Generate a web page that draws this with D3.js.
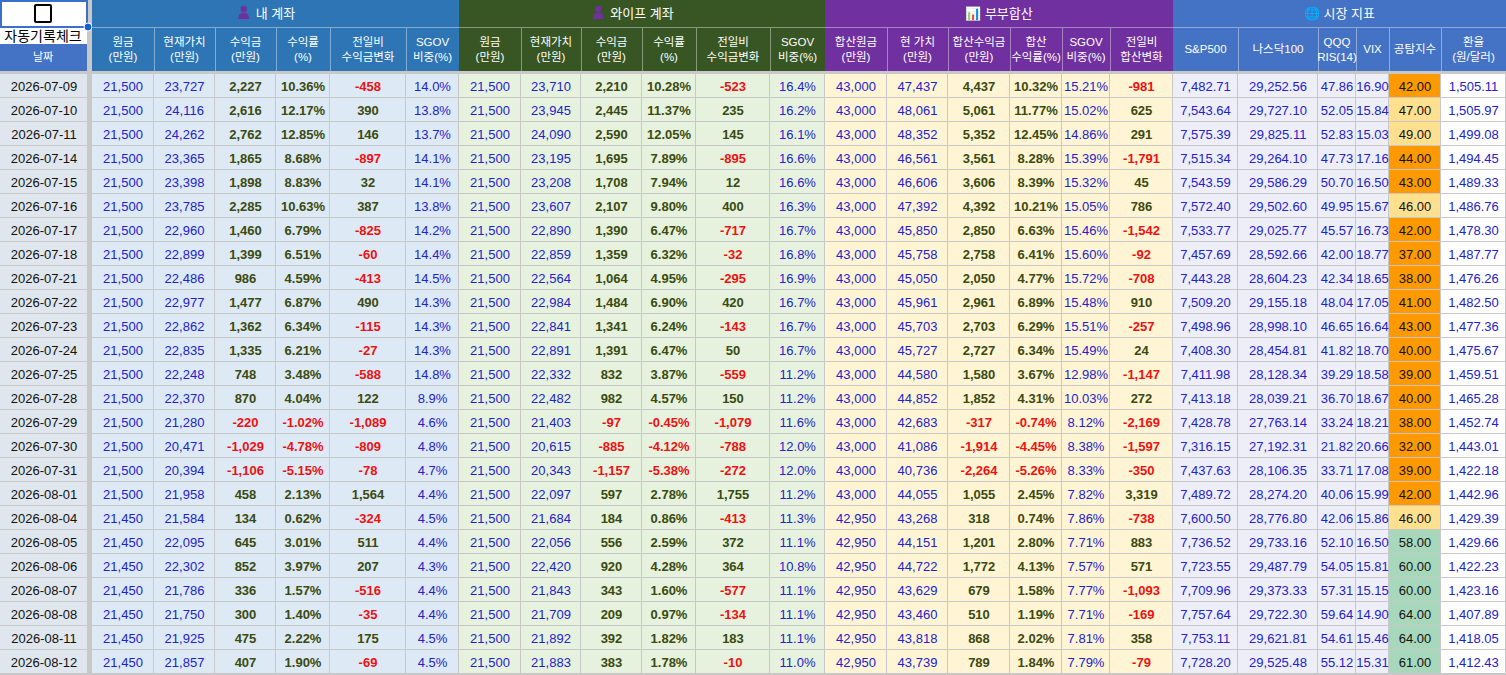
<!DOCTYPE html>
<html><head><meta charset="utf-8">
<script src="https://cdn.jsdelivr.net/npm/d3@7"></script>
<style>body{margin:0;background:#fff}svg{display:block}text{font-family:"Liberation Sans","Noto Sans CJK KR",sans-serif}</style>
</head><body><svg id="c" width="1506" height="675"></svg>
<script>
const dates=["2026-07-09","2026-07-10","2026-07-11","2026-07-14","2026-07-15","2026-07-16","2026-07-17","2026-07-18","2026-07-21","2026-07-22","2026-07-23","2026-07-24","2026-07-25","2026-07-28","2026-07-29","2026-07-30","2026-07-31","2026-08-01","2026-08-04","2026-08-05","2026-08-06","2026-08-07","2026-08-08","2026-08-11","2026-08-12"];
const myPrincipal=[21500,21500,21500,21500,21500,21500,21500,21500,21500,21500,21500,21500,21500,21500,21500,21500,21500,21500,21450,21450,21450,21450,21450,21450,21450];
const myValue=[23727,24116,24262,23365,23398,23785,22960,22899,22486,22977,22862,22835,22248,22370,21280,20471,20394,21958,21584,22095,22302,21786,21750,21925,21857];
const myProfit=[2227,2616,2762,1865,1898,2285,1460,1399,986,1477,1362,1335,748,870,-220,-1029,-1106,458,134,645,852,336,300,475,407];
const myRate=[10.36,12.17,12.85,8.68,8.83,10.63,6.79,6.51,4.59,6.87,6.34,6.21,3.48,4.04,-1.02,-4.78,-5.15,2.13,0.62,3.01,3.97,1.57,1.40,2.22,1.90];
const myChange=[-458,390,146,-897,32,387,-825,-60,-413,490,-115,-27,-588,122,-1089,-809,-78,1564,-324,511,207,-516,-35,175,-69];
const mySgov=[14.0,13.8,13.7,14.1,14.1,13.8,14.2,14.4,14.5,14.3,14.3,14.3,14.8,8.9,4.6,4.8,4.7,4.4,4.5,4.4,4.3,4.4,4.4,4.5,4.5];
const wPrincipal=[21500,21500,21500,21500,21500,21500,21500,21500,21500,21500,21500,21500,21500,21500,21500,21500,21500,21500,21500,21500,21500,21500,21500,21500,21500];
const wValue=[23710,23945,24090,23195,23208,23607,22890,22859,22564,22984,22841,22891,22332,22482,21403,20615,20343,22097,21684,22056,22420,21843,21709,21892,21883];
const wProfit=[2210,2445,2590,1695,1708,2107,1390,1359,1064,1484,1341,1391,832,982,-97,-885,-1157,597,184,556,920,343,209,392,383];
const wRate=[10.28,11.37,12.05,7.89,7.94,9.80,6.47,6.32,4.95,6.90,6.24,6.47,3.87,4.57,-0.45,-4.12,-5.38,2.78,0.86,2.59,4.28,1.60,0.97,1.82,1.78];
const wChange=[-523,235,145,-895,12,400,-717,-32,-295,420,-143,50,-559,150,-1079,-788,-272,1755,-413,372,364,-577,-134,183,-10];
const wSgov=[16.4,16.2,16.1,16.6,16.6,16.3,16.7,16.8,16.9,16.7,16.7,16.7,11.2,11.2,11.6,12.0,12.0,11.2,11.3,11.1,10.8,11.1,11.1,11.1,11.0];
const cPrincipal=[43000,43000,43000,43000,43000,43000,43000,43000,43000,43000,43000,43000,43000,43000,43000,43000,43000,43000,42950,42950,42950,42950,42950,42950,42950];
const cValue=[47437,48061,48352,46561,46606,47392,45850,45758,45050,45961,45703,45727,44580,44852,42683,41086,40736,44055,43268,44151,44722,43629,43460,43818,43739];
const cProfit=[4437,5061,5352,3561,3606,4392,2850,2758,2050,2961,2703,2727,1580,1852,-317,-1914,-2264,1055,318,1201,1772,679,510,868,789];
const cRate=[10.32,11.77,12.45,8.28,8.39,10.21,6.63,6.41,4.77,6.89,6.29,6.34,3.67,4.31,-0.74,-4.45,-5.26,2.45,0.74,2.80,4.13,1.58,1.19,2.02,1.84];
const cSgov=[15.21,15.02,14.86,15.39,15.32,15.05,15.46,15.60,15.72,15.48,15.51,15.49,12.98,10.03,8.12,8.38,8.33,7.82,7.86,7.71,7.57,7.77,7.71,7.81,7.79];
const cChange=[-981,625,291,-1791,45,786,-1542,-92,-708,910,-257,24,-1147,272,-2169,-1597,-350,3319,-738,883,571,-1093,-169,358,-79];
const sp500=[7482.71,7543.64,7575.39,7515.34,7543.59,7572.40,7533.77,7457.69,7443.28,7509.20,7498.96,7408.30,7411.98,7413.18,7428.78,7316.15,7437.63,7489.72,7600.50,7736.52,7723.55,7709.96,7757.64,7753.11,7728.20];
const nasdaq=[29252.56,29727.10,29825.11,29264.10,29586.29,29502.60,29025.77,28592.66,28604.23,29155.18,28998.10,28454.81,28128.34,28039.21,27763.14,27192.31,28106.35,28274.20,28776.80,29733.16,29487.79,29373.33,29722.30,29621.81,29525.48];
const qqqRsi=[47.86,52.05,52.83,47.73,50.70,49.95,45.57,42.00,42.34,48.04,46.65,41.82,39.29,36.70,33.24,21.82,33.71,40.06,42.06,52.10,54.05,57.31,59.64,54.61,55.12];
const vix=[16.90,15.84,15.03,17.16,16.50,15.67,16.73,18.77,18.65,17.05,16.64,18.70,18.58,18.67,18.21,20.66,17.08,15.99,15.86,16.50,15.81,15.15,14.90,15.46,15.31];
const fearGreed=[42,47,49,44,43,46,42,37,38,41,43,40,39,40,38,32,39,42,46,58,60,60,64,64,61];
const fx=[1505.11,1505.97,1499.08,1494.45,1489.33,1486.76,1478.30,1487.77,1476.26,1482.50,1477.36,1475.67,1459.51,1465.28,1452.74,1443.01,1422.18,1442.96,1429.39,1429.66,1422.23,1423.16,1407.89,1418.05,1412.43];

const groups=[
 {title:"내 계좌",icon:"#7030a0",bg:"#2e75b6",cell:"#dde9f5",cols:[["원금","(만원)"],["현재가치","(만원)"],["수익금","(만원)"],["수익률","(%)"],["전일비","수익금변화"],["SGOV","비중(%)"]],data:[myPrincipal,myValue,myProfit,myRate,myChange,mySgov],kind:["amt","amt","profit","rate","chg","sgov1"]},
 {title:"와이프 계좌",icon:"#7030a0",bg:"#375623",cell:"#e6f2dd",cols:[["원금","(만원)"],["현재가치","(만원)"],["수익금","(만원)"],["수익률","(%)"],["전일비","수익금변화"],["SGOV","비중(%)"]],data:[wPrincipal,wValue,wProfit,wRate,wChange,wSgov],kind:["amt","amt","profit","rate","chg","sgov1"]},
 {title:"📊 부부합산",bg:"#7030a0",cell:"#fff4d4",cols:[["합산원금","(만원)"],["현 가치","(만원)"],["합산수익금","(만원)"],["합산","수익률(%)"],["SGOV","비중(%)"],["전일비","합산변화"]],data:[cPrincipal,cValue,cProfit,cRate,cSgov,cChange],kind:["amt","amt","profit","rate","sgov2","chg"]},
 {title:"🌐 시장 지표",bg:"#4472c4",cell:"#eeeef8",cols:[["S&P500"],["나스닥100"],["QQQ","RIS(14)"],["VIX"],["공탐지수"],["환율","(원/달러)"]],data:[sp500,nasdaq,qqqRsi,vix,fearGreed,fx],kind:["m2","m2","m2","m2","fg","fx"]}
];
const edges=[[92,154,215,276,330,406,459],[459,521,581,642,696,770,825],[825,887,948,1010,1062,1110,1173],[1173,1238,1318,1356,1389,1441,1506]];

const svg=d3.select("#c");
const y=d3.scaleBand().domain(dates).range([74,74+24*dates.length]);
const loc=d3.formatLocale({decimal:".",thousands:",",grouping:[3],currency:["",""],minus:"-"});
const f0=loc.format(",.0f"),f2=loc.format(",.2f"),f1=loc.format(".1f");
const BLUE="#2222cc",GREEN="#3a4a10",RED="#ee1111";
svg.append("rect").attr("width",1506).attr("height",675).attr("fill","#c8c8c8");

svg.append("rect").attr("x",1).attr("y",1).attr("width",86).attr("height",26).attr("fill","#fff").attr("stroke","#3a6fd0").attr("stroke-width",2);
svg.append("rect").attr("x",35).attr("y",5).attr("width",16).attr("height",17).attr("fill","none").attr("stroke","#000").attr("stroke-width",2).attr("rx",1);
svg.append("rect").attr("x",0).attr("y",28).attr("width",87).attr("height",16).attr("fill","#fff");
svg.append("text").attr("x",43).attr("y",41).attr("text-anchor","middle").attr("font-size",14).attr("font-family","Noto Sans CJK KR").text("자동기록체크");
svg.append("circle").attr("cx",88).attr("cy",27).attr("r",4).attr("fill","#1a5fd0").attr("stroke","#fff");
svg.append("rect").attr("x",0).attr("y",44).attr("width",87).attr("height",27).attr("fill","#4472c4");
svg.append("text").attr("x",43).attr("y",61).attr("text-anchor","middle").attr("font-size",11).attr("fill","#fff").attr("font-family","Noto Sans CJK KR").text("날짜");
svg.selectAll(".dc").data(dates).join("rect").attr("x",0).attr("y",d=>y(d)).attr("width",87).attr("height",y.bandwidth()-1).attr("fill","#dfe6ee");
svg.selectAll(".dt").data(dates).join("text").attr("x",44).attr("y",d=>y(d)+17).attr("text-anchor","middle").attr("font-size",13).attr("fill","#111").text(d=>d);

function style(kind,v){
 if(kind==="amt")return[f0(v),BLUE,400];
 if(kind==="profit")return[f0(v),v<0?RED:GREEN,700];
 if(kind==="rate")return[f2(v)+"%",v<0?RED:GREEN,700];
 if(kind==="chg")return[f0(v),v<0?RED:GREEN,700];
 if(kind==="sgov1")return[f1(v)+"%",BLUE,400];
 if(kind==="sgov2")return[f2(v)+"%",BLUE,400];
 if(kind==="m2"||kind==="fx")return[f2(v),BLUE,400];
 if(kind==="fg")return[f2(v),"#111",400];
}
function fgColor(v){return v<45?"#ff9900":v<50?"#ffe08f":"#a8d8bc";}

groups.forEach((g,gi)=>{
 const e=edges[gi],mid=(e[0]+e[6])/2;
 svg.append("rect").attr("x",e[0]).attr("y",0).attr("width",e[6]-e[0]).attr("height",71).attr("fill",g.bg);
 const t=svg.append("text").attr("x",mid).attr("y",18).attr("text-anchor","middle").attr("font-size",13).attr("fill","#fff").attr("font-family","Noto Sans CJK KR").text(g.title);
 if(g.icon){
  const w=t.node().getComputedTextLength(),ix=mid-w/2-12;
  svg.append("circle").attr("cx",ix).attr("cy",9).attr("r",3.2).attr("fill",g.icon);
  svg.append("path").attr("d",`M${ix-5.5},19 Q${ix-5.5},12.5 ${ix},12.5 Q${ix+5.5},12.5 ${ix+5.5},19 Z`).attr("fill",g.icon);
 }
 svg.append("line").attr("x1",e[0]).attr("x2",e[6]).attr("y1",27.5).attr("y2",27.5).attr("stroke","#ffffff66");
 g.cols.forEach((c,ci)=>{
  const x0=e[ci],x1=e[ci+1],cx=(x0+x1)/2;
  if(ci>0)svg.append("line").attr("x1",x0+.5).attr("x2",x0+.5).attr("y1",28).attr("y2",71).attr("stroke","#ffffff66");
  c.forEach((tt,li)=>svg.append("text").attr("x",cx).attr("y",c.length===1?53:46+li*15).attr("text-anchor","middle").attr("font-size",11.5).attr("font-family","Noto Sans CJK KR").attr("fill","#fff").text(tt));
  const bgCell=(gi===3&&ci===5)?"#ffffff":g.cell;
  const vals=g.data[ci];
  svg.selectAll(null).data(dates).join("rect").attr("x",x0).attr("y",d=>y(d)).attr("width",x1-x0-1).attr("height",y.bandwidth()-1)
   .attr("fill",(d,i)=>g.kind[ci]==="fg"?fgColor(vals[i]):bgCell);
  svg.selectAll(null).data(vals).join("text").attr("x",cx).attr("y",(v,i)=>y(dates[i])+17).attr("text-anchor","middle").attr("font-size",13)
   .each(function(v){const s=style(g.kind[ci],v);d3.select(this).text(s[0]).attr("fill",s[1]).attr("font-weight",s[2]);});
 });
});
</script></body></html>
